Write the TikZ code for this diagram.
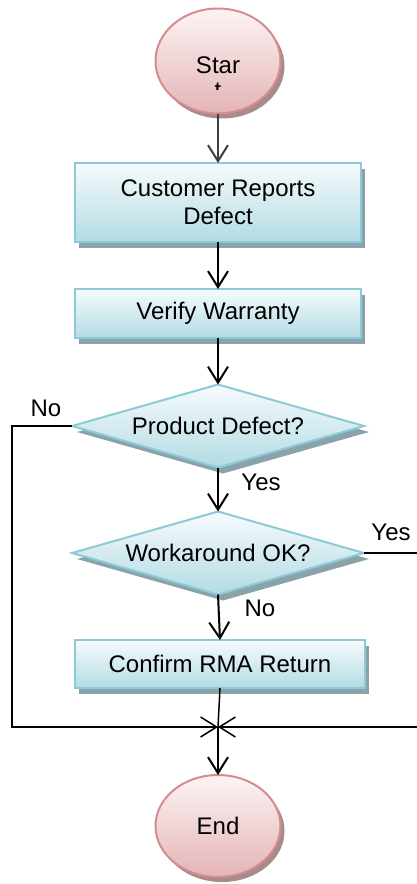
\documentclass[tikz,border=0pt]{standalone}
\usepackage{fontspec}
\setmainfont{Liberation Sans}
\usetikzlibrary{shapes.geometric,shadows,arrows.meta}

\definecolor{boxtop}{HTML}{F6FBFC}
\definecolor{boxbottom}{HTML}{B3DBE4}
\definecolor{boxline}{HTML}{8DCAD7}
\definecolor{boxshadow}{HTML}{8AA3AB}
\definecolor{ovaltop}{HTML}{FDF4F4}
\definecolor{ovalbottom}{HTML}{E4B4B6}
\definecolor{ovalline}{HTML}{D58C8F}
\definecolor{ovalshadow}{HTML}{A68A8C}

\begin{document}
\begin{tikzpicture}[
x=1pt, y=-1pt,
every node/.style={font=\fontsize{24}{28}\selectfont, inner sep=0pt, outer sep=0pt},
stepbox/.style={rectangle, draw=boxline, line width=2pt, top color=boxtop, bottom color=boxbottom,
	general shadow={fill=boxshadow, shadow xshift=4pt, shadow yshift=-6pt},
	minimum width=286pt, align=center},
decision/.style={diamond, aspect=3.52, draw=boxline, line width=2pt, top color=boxtop, bottom color=boxbottom,
	general shadow={fill=boxshadow, shadow xshift=5pt, shadow yshift=-6pt},
	minimum width=292pt, minimum height=83pt},
terminal/.style={ellipse, draw=ovalline, line width=2pt, top color=ovaltop, bottom color=ovalbottom,
	general shadow={fill=ovalshadow, shadow xshift=4pt, shadow yshift=-5pt},
	minimum width=125pt, minimum height=105pt},
flow/.style={line width=2pt, -{Straight Barb[length=16pt, width=20pt]}},
loop/.style={line width=1.5pt},
merging/.style={line width=1.5pt, -{Straight Barb[length=16pt, width=20pt]}}
]

\clip (0,0) rectangle (417,884);

\node[terminal] (start) at (218,61) {};
\begin{scope}
	% only the first line of the label fits in the oval
	\clip (150,40) rectangle (290,89);
	\node[align=center] (startlabel) at (218,77.5) {Star\\[-3pt]t};
\end{scope}

\node[stepbox, minimum height=79pt] (report) at (218,202.5) {Customer Reports\\Defect};
\node[stepbox, minimum height=49pt] (verify) at (218,313.5) {Verify Warranty};
\node[decision] (defect) at (218,426) {Product Defect?};
\node[decision] (workaround) at (218,553) {Workaround OK?};
\node[stepbox, minimum width=290pt, minimum height=48pt] (rma) at (220,664) {Confirm RMA Return};
\node[terminal, minimum height=102pt] (finish) at (218,826) {End};

\coordinate (merge) at (218,727);
\coordinate (leftside) at (12,727);
\coordinate (rightside) at (430,727);

\draw[flow, black!75] (start.south) -- (report.north);
\draw[flow] (report.south) -- (verify.north);
\draw[flow] (verify.south) -- (defect.north);
\draw[flow] (defect.south) -- (workaround.north);
\draw[flow] (workaround.south) -- (rma.north);

% both loops come back in above the end oval
\draw[loop] (rma.south) -- (merge);
\draw[merging] (defect.west) -| (leftside) -- (merge);
\draw[merging] (workaround.east) -| (rightside) -- (merge);
\draw[flow] (merge) -- (finish.north);

\node (nodefect) at (46,408) {No};
\node (yesdefect) at (261,482) {Yes};
\node (yesworkaround) at (391,532) {Yes};
\node (noworkaround) at (260,608) {No};
\end{tikzpicture}
\end{document}
